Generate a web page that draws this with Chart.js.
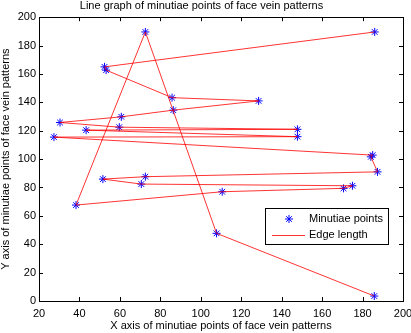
<!DOCTYPE html>
<html>
<head>
<meta charset="utf-8">
<script src="https://cdn.jsdelivr.net/npm/chart.js@4.4.1/dist/chart.umd.min.js"></script>
<style>
	body { margin:0; background:#fff; overflow:hidden; }
	#wadah { position:relative; width:411px; height:333px; }
</style>
</head>
<body>
<div id="wadah"><canvas id="grafik" width="411" height="333"></canvas></div>
<script>
// titik minutiae, urut sesuai garis penghubung
const titikX = [186, 52.4, 53.2, 85.8, 128.6, 86.4, 60.7, 30.4, 59.7, 147.8, 43.3, 147.8, 27.4, 185, 184.1, 187.4, 72.6, 51.6, 70.6, 175, 170.6, 110.6, 38.3, 72.6, 107.8, 185.8]
const titikY = [189.6, 165, 162.7, 143.3, 141, 134.5, 129.8, 125.8, 122.5, 121, 120.4, 115.8, 115.5, 102.8, 101.6, 91, 87.6, 85.9, 82.4, 81.2, 79.4, 77, 67.6, 189.6, 47.7, 3.5]
const tickX = [20, 40, 60, 80, 100, 120, 140, 160, 180, 200]
const tickY = [0, 20, 40, 60, 80, 100, 120, 140, 160, 180, 200]
const labelSeri = ['Minutiae points', 'Edge length']

const huruf = '"Liberation Sans", Arial, sans-serif'
const data = titikX.map((a,b) => ({x:a, y:titikY[b]}))

const kotak = {
	id: 'kotak',
	afterDraw: c => {
		const {ctx, chartArea: a, scales: {x, y}} = c
		const garis = (x1,y1,x2,y2) => { ctx.beginPath(); ctx.moveTo(x1,y1); ctx.lineTo(x2,y2); ctx.stroke() }
		ctx.save()
		ctx.strokeStyle = '#000'
		ctx.lineWidth = 1
		ctx.strokeRect(Math.round(a.left)+0.5, Math.round(a.top)+0.5, Math.round(a.width), Math.round(a.height))
		tickX.forEach(v => {
			const p = Math.round(x.getPixelForValue(v))+0.5
			garis(p, a.bottom, p, a.bottom-4)
			garis(p, a.top, p, a.top+4)
		})
		tickY.forEach(v => {
			const p = Math.round(y.getPixelForValue(v))+0.5
			garis(a.left, p, a.left+4, p)
			garis(a.right, p, a.right-4, p)
		})

		// legenda
		ctx.fillStyle = '#fff'
		ctx.fillRect(265.5, 208.5, 123, 36)
		ctx.strokeRect(265.5, 208.5, 123, 36)
		ctx.strokeStyle = '#0000ff'
		Chart.helpers.drawPoint(ctx, {pointStyle:'star', radius:4, rotation:0, borderWidth:1}, 289, 219)
		ctx.strokeStyle = 'rgba(255,0,0,0.8)'
		garis(272, 235.5, 305, 235.5)
		ctx.fillStyle = '#000'
		ctx.font = '11px ' + huruf
		ctx.textBaseline = 'middle'
		ctx.fillText(labelSeri[0], 309, 219)
		ctx.fillText(labelSeri[1], 309, 235)
		ctx.restore()
	}
}

new Chart(document.getElementById('grafik'), {
	type: 'scatter',
	data: {
		datasets: [{
			label: labelSeri[1],
			data: data,
			showLine: true,
			borderColor: 'rgba(255,0,0,0.8)',
			borderWidth: 1,
			pointRadius: 0,
			tension: 0,
		}, {
			label: labelSeri[0],
			data: data,
			showLine: false,
			pointStyle: 'star',
			pointRadius: 4,
			borderColor: '#0000ff',
			backgroundColor: '#0000ff',
			borderWidth: 1,
		}]
	},
	plugins: [kotak],
	options: {
		responsive: false,
		animation: false,
		devicePixelRatio: 1,
		layout: { padding: { left:0, right:8, top:0, bottom:0 } },
		plugins: {
			legend: { display: false },
			tooltip: { enabled: false },
			title: {
				display: true,
				text: 'Line graph of minutiae points of face vein patterns',
				color: '#000',
				font: { family: huruf, size: 11, weight: 'normal' },
				padding: { top: -1, bottom: 5 },
			},
		},
		scales: {
			x: {
				type: 'linear', min: 20, max: 200,
				grid: { display: false, drawTicks: false },
				border: { display: false },
				afterFit: s => { s.height = 32; s.paddingRight = 7 },
				ticks: { stepSize: 20, color: '#000', padding: 6, maxRotation: 0, autoSkip: false, font: { family: huruf, size: 11 } },
				title: { display: true, text: 'X axis of minutiae points of face vein patterns', color: '#000', padding: { top: 0, bottom: 0 }, font: { family: huruf, size: 11 } },
			},
			y: {
				type: 'linear', min: 0, max: 200,
				grid: { display: false, drawTicks: false },
				border: { display: false },
				afterFit: s => { s.width = 39 },
				ticks: { stepSize: 20, color: '#000', padding: 3, autoSkip: false, font: { family: huruf, size: 11 } },
				title: { display: true, text: 'Y axis of minutiae points of face vein patterns', color: '#000', padding: { top: -1, bottom: 0 }, font: { family: huruf, size: 11 } },
			},
		},
	}
})
</script>
</body>
</html>
